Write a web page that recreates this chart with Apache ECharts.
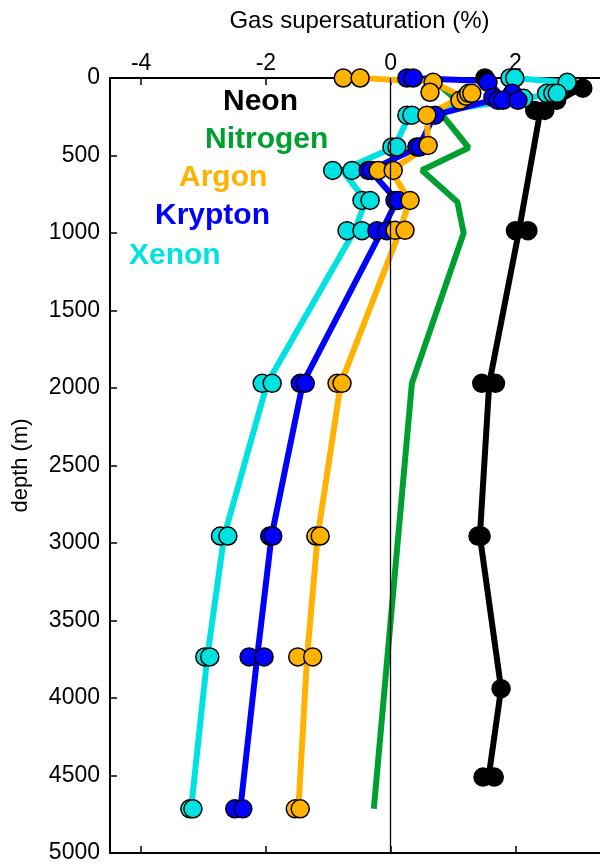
<!DOCTYPE html>
<html>
<head>
<meta charset="utf-8">
<script src="https://cdn.jsdelivr.net/npm/echarts@6/dist/echarts.min.js"></script>
<style>html,body{margin:0;padding:0;background:#fff;}#c{width:600px;height:864px;}</style>
</head>
<body>
<div id="c"></div>
<script>
// ---- data: [supersaturation %, depth m] ----
const xTicks = [-4, -2, 0, 2];
const gasNames = ['Neon', 'Nitrogen', 'Argon', 'Krypton', 'Xenon'];

const neonLine = [[3.05,65],[2.4,210],[2.05,1000],[1.58,1970],[1.43,2955],[1.77,3940],[1.57,4510]];
const neonPts = [[1.51,0],[3.08,66],[2.66,144],[2.31,209],[2.47,209],[2.0,985],[2.2,985],
  [1.46,1970],[1.68,1970],[1.4,2955],[1.45,2955],[1.77,3940],[1.48,4510],[1.66,4510]];

const nitrogenLine = [[0.65,0],[1.05,140],[0.8,225],[1.25,450],[0.5,595],[1.07,800],[1.17,1000],[0.34,1970],[-0.27,4715]];

const argonLine = [[-0.5,0],[0.66,25],[1.15,120],[0.58,240],[0.6,440],[0.0,596],[0.3,790],[0.15,985],[-0.8,1970],[-1.17,2955],[-1.34,3735],[-1.48,4715]];
const argonPts = [[-0.76,0],[-0.49,0],[0.68,28],[0.63,92],[1.11,144],[1.21,118],[1.25,99],[1.3,99],
  [0.58,240],[0.6,435],[-0.2,596],[0.04,596],[0.31,790],[0.07,983],[0.23,983],
  [-0.86,1970],[-0.78,1970],[-1.2,2955],[-1.13,2955],[-1.49,3735],[-1.25,3735],[-1.53,4715],[-1.45,4715]];

const kryptonLine = [[0.3,0],[1.55,20],[1.8,125],[0.7,240],[0.45,445],[-0.33,596],[0.1,790],[-0.14,985],[-1.41,1970],[-1.91,2955],[-2.14,3735],[-2.41,4715]];
const kryptonPts = [[0.26,0],[0.36,0],[1.56,28],[1.95,99],[1.64,125],[1.72,144],[1.8,144],[2.04,144],[0.71,240],
  [0.42,445],[0.47,445],[-0.36,596],[-0.3,596],[0.07,790],[0.12,790],[-0.22,985],[-0.06,985],
  [-1.45,1970],[-1.37,1970],[-1.94,2955],[-1.89,2955],[-2.27,3735],[-2.03,3735],[-2.5,4715],[-2.37,4715]];

const xenonLine = [[1.95,0],[2.83,28],[2.6,100],[2.1,135],[0.3,240],[0.06,445],[-0.78,596],[-0.4,790],[-0.58,985],[-1.98,1970],[-2.67,2955],[-2.94,3735],[-3.2,4715]];
const xenonPts = [[1.91,0],[1.99,0],[2.83,28],[2.5,99],[2.6,99],[2.67,99],[2.07,131],[2.13,131],
  [0.26,240],[0.34,240],[0.02,445],[0.1,445],[-0.93,596],[-0.62,596],[-0.46,790],[-0.33,790],
  [-0.7,985],[-0.46,985],[-2.06,1970],[-1.9,1970],[-2.73,2955],[-2.61,2955],[-2.98,3735],[-2.9,3735],[-3.22,4715],[-3.17,4715]];

const C = {Neon:'#000000', Nitrogen:'#00a030', Argon:'#ffb300', Krypton:'#0000ff', Xenon:'#00e2e2'};
const FONT = 'Liberation Sans, Arial, sans-serif';

function lineS(name, data, extra) {
  return Object.assign({
    type:'line', name, data, symbol:'none', xAxisIndex:0, yAxisIndex:0,
    lineStyle:{color:C[name], width:6}, silent:true, animation:false, z:2
  }, extra||{});
}
function ptsS(name, data) {
  return {type:'scatter', name, data, symbolSize:18, xAxisIndex:0, yAxisIndex:0,
    itemStyle:{color:C[name], borderColor:'#000', borderWidth:1.5, opacity:1}, animation:false, z:3};
}

const axisCommon = {
  type:'value', min:-4.5, max:3.5, gridIndex:0,
  splitLine:{show:false},
  axisLine:{show:true, onZero:false, lineStyle:{color:'#000', width:2}},
};

const chart = echarts.init(document.getElementById('c'), null, {renderer:'canvas'});
chart.setOption({
  animation:false,
  backgroundColor:'#fff',
  grid:{left:110, right:-9, top:78, bottom:11, containLabel:false, outerBoundsMode:'none'},
  xAxis:[
    Object.assign({}, axisCommon, {
      position:'top',
      name:'Gas supersaturation (%)', nameLocation:'middle', nameGap:45,
      nameTextStyle:{fontSize:24, color:'#000', fontFamily:FONT},
      axisTick:{show:true, inside:true, length:7, customValues:xTicks, lineStyle:{color:'#000', width:1.5}},
      axisLabel:{show:true, customValues:xTicks, fontSize:23, color:'#000', fontFamily:FONT, margin:3,
        formatter:v=>String(v)}
    }),
    Object.assign({}, axisCommon, {
      position:'bottom',
      axisTick:{show:true, inside:true, length:7, customValues:xTicks, lineStyle:{color:'#000', width:1.5}},
      axisLabel:{show:false}
    })
  ],
  yAxis:[{
    type:'value', inverse:true, min:0, max:5000, interval:500,
    name:'depth (m)', nameLocation:'middle', nameGap:78, nameRotate:90,
    nameTextStyle:{fontSize:22, color:'#000', fontFamily:FONT},
    splitLine:{show:false},
    axisLine:{show:true, onZero:false, lineStyle:{color:'#000', width:2}},
    axisTick:{show:true, inside:true, length:7, lineStyle:{color:'#000', width:1.5}},
    axisLabel:{fontSize:23, color:'#000', fontFamily:FONT, margin:10, formatter:v=>String(v)}
  }],
  graphic:[
    {type:'text', left:223, top:87, style:{text:gasNames[0], fill:C.Neon, font:'bold 30px '+FONT}},
    {type:'text', left:205, top:125, style:{text:gasNames[1], fill:C.Nitrogen, font:'bold 30px '+FONT}},
    {type:'text', left:179, top:163, style:{text:gasNames[2], fill:C.Argon, font:'bold 30px '+FONT}},
    {type:'text', left:155, top:201, style:{text:gasNames[3], fill:C.Krypton, font:'bold 30px '+FONT}},
    {type:'text', left:129, top:241, style:{text:gasNames[4], fill:C.Xenon, font:'bold 30px '+FONT}}
  ],
  series:[
    lineS('Neon', neonLine, {markLine:{silent:true, symbol:'none', label:{show:false},
      lineStyle:{color:'#000', width:1.3, type:'solid'}, data:[{xAxis:0}], animation:false}, z:1}),
    lineS('Nitrogen', nitrogenLine),
    lineS('Xenon', xenonLine),
    lineS('Krypton', kryptonLine),
    lineS('Argon', argonLine),
    ptsS('Neon', neonPts),
    ptsS('Xenon', xenonPts),
    ptsS('Krypton', kryptonPts),
    ptsS('Argon', argonPts)
  ]
});
</script>
</body>
</html>
